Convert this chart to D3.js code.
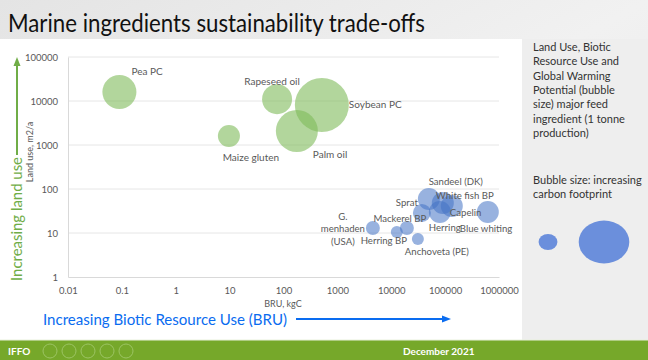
<!DOCTYPE html>
<html><head><meta charset="utf-8">
<script src="https://cdn.jsdelivr.net/npm/d3@7"></script>
<style>body{margin:0;padding:0;overflow:hidden;background:#fff}svg{display:block}</style>
</head><body>
<svg id="c" width="648" height="360"></svg>
<script>
// ---- data ----
const plantNames = ["Pea PC","Rapeseed oil","Soybean PC","Palm oil","Maize gluten"];
const plantBRU   = [0.09, 76, 515, 177, 9.7];
const plantLand  = [16000, 11000, 8100, 2080, 1600];
const plantGWP   = [1430, 1110, 3600, 2180, 600];

const marineNames = ["G. menhaden (USA)","Herring BP","Mackerel BP","Anchoveta (PE)","Sprat","Sandeel (DK)","White fish BP","Capelin","Herring","Blue whiting"];
const marineBRU   = [4560, 12700, 19500, 31200, 49900, 90600, 133000, 79800, 37000, 620000];
const marineLand  = [13, 10.5, 13, 7.3, 59, 48, 41, 30, 28.5, 30];
const marineGWP   = [242, 178, 242, 178, 598, 598, 598, 598, 400, 598];

const xTicks = [0.01,0.1,1,10,100,1000,10000,100000,1000000];
const xTickLabels = ["0.01","0.1","1","10","100","1000","10000","100000","1000000"];
const yTicks = [1,10,100,1000,10000,100000];
const yTickLabels = ["1","10","100","1000","10000","100000"];
const legendGWP = [180, 1300];

// ---- layout (label placement offsets, not data) ----
const plantLabelPos = [
  {dx:12,dy:-17,a:"start"},{dx:-5,dy:-14,a:"middle"},{dx:27,dy:3,a:"start"},
  {dx:16,dy:27,a:"start"},{dx:22,dy:25,a:"middle"}];
const marineLabelPos = [
  {dx:-30,dy:-8,a:"middle",lines:["G.","menhaden","(USA)"]},
  {dx:-13,dy:12,a:"middle"},{dx:-7,dy:-6,a:"middle"},{dx:19,dy:16,a:"middle"},
  {dx:-11,dy:7,a:"end"},{dx:13,dy:-18,a:"middle"},{dx:13,dy:-7,a:"middle"},
  {dx:10,dy:4,a:"start"},{dx:7,dy:18,a:"start"},{dx:-28,dy:20,a:"start"}];

const svg = d3.select("#c");
const F = "Lato, 'Open Sans', sans-serif";

// background
const defs = svg.append("defs");
const g1 = defs.append("linearGradient").attr("id","bg").attr("x1",0).attr("y1",0).attr("x2",1).attr("y2",1);
g1.append("stop").attr("offset","0%").attr("stop-color","#e4e4e4");
g1.append("stop").attr("offset","50%").attr("stop-color","#f1f1f1");
g1.append("stop").attr("offset","100%").attr("stop-color","#e6e6e6");
svg.append("rect").attr("width",648).attr("height",360).attr("fill","url(#bg)");
svg.append("rect").attr("x",0).attr("y",39).attr("width",522).attr("height",301).attr("fill","#ffffff");
svg.append("rect").attr("x",522).attr("y",39).attr("width",126).attr("height",301).attr("fill","#eeeeee");

// title
svg.append("text").attr("x",8).attr("y",32).text("Marine ingredients sustainability trade-offs")
  .attr("font-family",F).attr("font-size",25).attr("fill","#111")
  .attr("textLength",417).attr("lengthAdjust","spacingAndGlyphs");

// scales
const x = d3.scaleLog().domain([0.01,1000000]).range([68,499]);
const y = d3.scaleLog().domain([1,100000]).range([277,57]);
const r = d3.scaleSqrt().domain([0,3600]).range([0,27]);

// gridlines
svg.append("g").selectAll("line").data(yTicks.slice(1)).join("line")
  .attr("x1",68).attr("x2",499).attr("y1",d=>y(d)).attr("y2",d=>y(d))
  .attr("stroke","#e6e6e6").attr("stroke-width",1);

// axes
const xAxis = d3.axisBottom(x).tickValues(xTicks).tickFormat((d,i)=>xTickLabels[i]).tickSize(0).tickPadding(10);
const gx = svg.append("g").attr("transform",`translate(0,${y(1)})`).call(xAxis);
gx.select(".domain").attr("stroke","#d9d9d9");
gx.selectAll("text").attr("font-family",F).attr("font-size",9.5).attr("fill","#595959");
const yAxis = d3.axisLeft(y).tickValues(yTicks).tickFormat((d,i)=>yTickLabels[i]).tickSize(0).tickPadding(10);
const gy = svg.append("g").attr("transform",`translate(${x(0.01)},0)`).call(yAxis);
gy.select(".domain").attr("stroke","#d9d9d9");
gy.selectAll("text").attr("font-family",F).attr("font-size",9.5).attr("fill","#595959");

// axis titles
svg.append("text").attr("x",283).attr("y",307).attr("text-anchor","middle").text("BRU, kgC")
  .attr("font-family",F).attr("font-size",9).attr("fill","#595959");
svg.append("text").attr("transform","translate(33,152) rotate(-90)").attr("text-anchor","middle")
  .text("Land use, m2/a").attr("font-family",F).attr("font-size",9).attr("fill","#595959");

// bubbles
const plants = plantNames.map((n,i)=>({n,x:plantBRU[i],y:plantLand[i],s:plantGWP[i],p:plantLabelPos[i]}));
const marine = marineNames.map((n,i)=>({n,x:marineBRU[i],y:marineLand[i],s:marineGWP[i],p:marineLabelPos[i]}));

svg.append("g").selectAll("circle").data(plants).join("circle")
  .attr("cx",d=>x(d.x)).attr("cy",d=>y(d.y)).attr("r",d=>r(d.s))
  .attr("fill","#7fbb5a").attr("fill-opacity",0.6);
svg.append("g").selectAll("circle").data(marine).join("circle")
  .attr("cx",d=>x(d.x)).attr("cy",d=>y(d.y)).attr("r",d=>r(d.s))
  .attr("fill","#4472c4").attr("fill-opacity",0.55);

function labels(data, fs){
  const t = svg.append("g").selectAll("text").data(data).join("text")
    .attr("x",d=>x(d.x)+d.p.dx).attr("y",d=>y(d.y)+d.p.dy).attr("text-anchor",d=>d.p.a)
    .attr("font-family",F).attr("font-size",fs).attr("fill","#595959");
  t.each(function(d){
    const el = d3.select(this);
    if(d.p.lines){
      d.p.lines.forEach((l,k)=>el.append("tspan").attr("x",x(d.x)+d.p.dx).attr("dy",k===0?0:12.5).text(l));
    } else el.text(d.n);
  });
}
labels(plants,10); labels(marine,9.6);

// annotation arrows
const green="#70ad47", blue="#0a6cf0";
svg.append("text").attr("transform","translate(22,219) rotate(-90)").attr("text-anchor","middle")
  .text("Increasing land use").attr("font-family",F).attr("font-size",15).attr("fill",green)
  .attr("textLength",124).attr("lengthAdjust","spacingAndGlyphs");
svg.append("line").attr("x1",17).attr("x2",17).attr("y1",155).attr("y2",64).attr("stroke",green).attr("stroke-width",2);
svg.append("path").attr("d","M17,57 L13.5,66 L20.5,66 Z").attr("fill",green);

svg.append("text").attr("x",43).attr("y",325).text("Increasing Biotic Resource Use (BRU)")
  .attr("font-family",F).attr("font-size",15).attr("fill",blue)
  .attr("textLength",244).attr("lengthAdjust","spacingAndGlyphs");
svg.append("line").attr("x1",296).attr("x2",443).attr("y1",319).attr("y2",319).attr("stroke",blue).attr("stroke-width",2);
svg.append("path").attr("d","M451,319 L442,315.5 L442,322.5 Z").attr("fill",blue);

// right panel text
const noteLines = ["Land Use, Biotic","Resource Use and","Global Warming","Potential (bubble","size) major feed","ingredient (1 tonne","production)"];
svg.append("g").selectAll("text").data(noteLines).join("text")
  .attr("x",533).attr("y",(d,i)=>51+i*14.3).text(d=>d)
  .attr("font-family",F).attr("font-size",11).attr("fill","#333");
const note2 = ["Bubble size: increasing","carbon footprint"];
svg.append("g").selectAll("text").data(note2).join("text")
  .attr("x",533).attr("y",(d,i)=>184+i*14.3).text(d=>d)
  .attr("font-family",F).attr("font-size",11).attr("fill","#333");
const lr = d3.scaleSqrt().domain([0,1300]).range([0,23]);
const legendX = [548,604];
svg.append("g").selectAll("ellipse").data(legendGWP).join("ellipse")
  .attr("cx",(d,i)=>legendX[i]).attr("cy",242).attr("rx",d=>lr(d)*1.1).attr("ry",d=>lr(d)*0.93)
  .attr("fill","#6b8fdc");

// footer
svg.append("rect").attr("x",0).attr("y",340).attr("width",648).attr("height",20).attr("fill","#76a82a");
svg.append("line").attr("x1",0).attr("x2",648).attr("y1",340).attr("y2",340).attr("stroke","#e8f0dc").attr("stroke-width",1);
svg.append("text").attr("x",8).attr("y",355).text("IFFO").attr("font-family",F).attr("font-weight","bold")
  .attr("font-size",10).attr("fill","#fff");
svg.append("g").selectAll("circle").data([50,69,88,107,126]).join("circle")
  .attr("cx",d=>d).attr("cy",351).attr("r",7).attr("fill","none").attr("stroke","#9cc463").attr("stroke-width",1);
svg.append("text").attr("x",403).attr("y",355).text("December 2021").attr("font-family",F).attr("font-weight","bold")
  .attr("font-size",10).attr("fill","#fff");
</script>
</body></html>
